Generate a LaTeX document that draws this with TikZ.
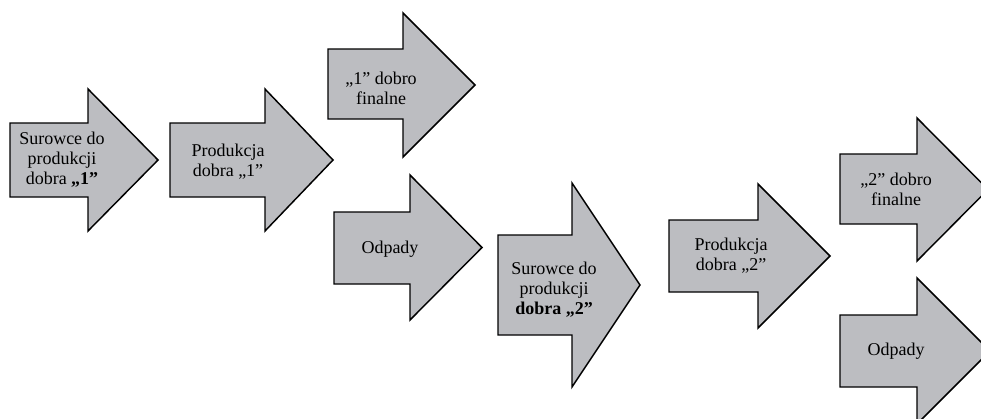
\documentclass[tikz,border=0pt]{standalone}
\usepackage{fontspec}
\setmainfont{Liberation Serif}
\definecolor{arrgray}{RGB}{188,189,193}
\newcommand\barrow[8]{% name, left, body top, body bottom, head x, head top, head bottom, tip x
  \draw[arr] (#2,#3) -- (#5,#3) -- (#5,#6) -- (#8,{(#6+#7)/2}) -- (#5,#7) -- (#5,#4) -- (#2,#4) -- cycle;
  \coordinate (#1tip) at (#8,{(#6+#7)/2});}
\begin{document}
\begin{tikzpicture}[x=0.75pt,y=-0.75pt,
  arr/.style={draw=black,fill=arrgray,line width=1.1pt,line join=miter},
  lbl/.style={align=center,inner sep=0pt,font=\fontsize{13.5}{15}\selectfont}]
\useasboundingbox (0,0) rectangle (981,418);
\fill[white] (0,0) rectangle (981,418);
\clip (0,0) rectangle (981,418);
\barrow{a1}{10}{123}{197}{88}{89}{231}{158}
\barrow{a2}{170}{123}{197}{265}{89}{231}{333}
\barrow{a3}{328}{49}{119}{403}{13}{157}{475}
\barrow{a4}{334}{212}{284}{410}{175}{320}{482}
\barrow{a5}{498}{235}{335}{572}{183}{387}{640}
\barrow{a6}{669}{220}{292}{758}{184}{328}{830}
\barrow{a7}{840}{154}{224}{917}{118}{261}{988}
\barrow{a8}{840}{315}{387}{917}{278}{424}{990}
\node[lbl] (t1) at (62,160) {Surowce do\\produkcji\\dobra \textbf{„1”}};
\node[lbl] (t2) at (228,162) {Produkcja\\dobra „1”};
\node[lbl] (t3) at (381,88) {„1” dobro\\finalne};
\node[lbl] (t4) at (390,249) {Odpady};
\node[lbl] (t5) at (554,290) {Surowce do\\produkcji\\\textbf{dobra „2”}};
\node[lbl] (t6) at (731,256) {Produkcja\\dobra „2”};
\node[lbl] (t7) at (896,189) {„2” dobro\\finalne};
\node[lbl] (t8) at (896,351) {Odpady};
\end{tikzpicture}
\end{document}
